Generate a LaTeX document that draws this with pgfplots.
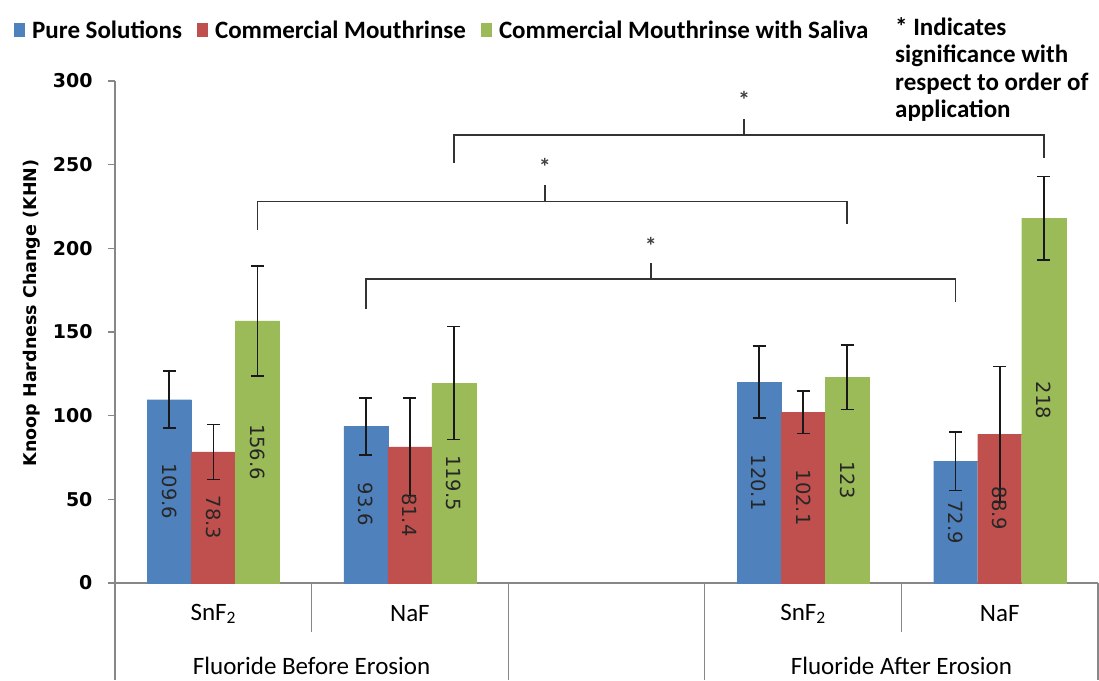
\documentclass[border=0pt]{standalone}
\usepackage{fontspec}
\setmainfont{Carlito}
\newfontfamily\dejavu{DejaVu Sans}
\usepackage{pgfplots}
\usepackage{pgfplotstable}
\pgfplotsset{compat=1.18}
\definecolor{cblue}{HTML}{4F81BD}
\definecolor{cred}{HTML}{C0504D}
\definecolor{cgreen}{HTML}{9BBB59}
\definecolor{axgrey}{HTML}{878787}
\definecolor{brk}{HTML}{333333}

\pgfplotstableread{
x y e lab
0 109.6 17.1 109.6
1 93.6 17.0 93.6
3 120.1 21.6 120.1
4 72.9 17.5 72.9
}\tblue
\pgfplotstableread{
x y e lab
0 78.3 16.5 78.3
1 81.4 29.0 81.4
3 102.1 12.8 102.1
4 88.9 40.4 88.9
}\tred
\pgfplotstableread{
x y e lab
0 156.6 32.8 156.6
1 119.5 33.7 119.5
3 123 19.2 123
4 218 25 218
}\tgreen

\begin{document}
\begin{tikzpicture}
\useasboundingbox (-115pt,-97pt) rectangle (984pt,583pt);
\begin{axis}[
  scale only axis, width=983pt, height=502pt,
  xmin=-0.5, xmax=4.5, ymin=0, ymax=300,
  ybar=0pt, bar width=0.224,
  axis lines*=left,
  axis line style={axgrey, line width=1.2pt},
  xtick=\empty,
  ytick={0,50,...,300},
  tick align=outside, major tick length=7pt,
  tick style={axgrey, line width=1.2pt},
  yticklabel style={font=\dejavu\bfseries\fontsize{19}{21}\selectfont, /pgf/number format/assume math mode=true, xshift=-12pt},
  ylabel={Knoop Hardness Change (KHN)},
  ylabel style={font=\dejavu\bfseries\fontsize{17.5}{20}\selectfont, at={(axis description cs:-0.0844,0.538)}, anchor=center},
  clip=false,
  legend style={at={(axis description cs:-0.1058,1.1016)}, anchor=west, draw=none, fill=none, legend columns=3,
    font=\bfseries\fontsize{25}{28}\selectfont,
    /tikz/every even column/.append style={column sep=13pt},
    /tikz/every odd column/.append style={column sep=5pt},
    nodes={inner sep=2pt}},
  legend image code/.code={\fill[#1,draw=none] (0pt,-7pt) rectangle (11pt,7pt);},
  nodes near coords, point meta=explicit symbolic,
  visualization depends on=rawy \as \rawy,
  every node near coord/.append style={shift={(axis direction cs:0,-\rawy/2)}, rotate=-90, anchor=center,
    font=\dejavu\fontsize{19.5}{20}\selectfont, text=black!85},
  error bars/y dir=both, error bars/y explicit,
  error bars/error mark=-,
  error bars/error bar style={line width=1.6pt, draw=black!90, solid},
  error bars/error mark options={rotate=90, line width=1.6pt, mark size=6.5pt, draw=black!90, solid},
]
\addplot[fill=cblue, draw=cblue, line width=0.1pt] table[x=x, y=y, y error=e, meta=lab]{\tblue};
\addplot[fill=cred, draw=cred, line width=0.1pt] table[x=x, y=y, y error=e, meta=lab]{\tred};
\addplot[fill=cgreen, draw=cgreen, line width=0.1pt] table[x=x, y=y, y error=e, meta=lab]{\tgreen};
\legend{Pure Solutions, Commercial Mouthrinse, Commercial Mouthrinse with Saliva}

% significance brackets
\draw[brk, line width=1.6pt] (axis cs:1.224,251) -- (axis cs:1.224,267.8) -- (axis cs:4.224,267.8) -- (axis cs:4.224,254);
\draw[brk, line width=1.6pt] (axis cs:2.70,267.8) -- (axis cs:2.70,277);
\draw[brk, line width=1.6pt] (axis cs:0.224,211) -- (axis cs:0.224,228) -- (axis cs:3.224,228) -- (axis cs:3.224,214.5);
\draw[brk, line width=1.6pt] (axis cs:1.687,228) -- (axis cs:1.687,238);
\draw[brk, line width=1.6pt] (axis cs:0.776,164) -- (axis cs:0.776,181.5) -- (axis cs:3.776,181.5) -- (axis cs:3.776,168);
\draw[brk, line width=1.6pt] (axis cs:2.226,181.5) -- (axis cs:2.226,191);
\node[font=\bfseries\fontsize{24}{24}\selectfont, text=black!75, anchor=base] at ([yshift=-11pt]axis cs:2.70,290) {*};
\node[font=\bfseries\fontsize{24}{24}\selectfont, text=black!75, anchor=base] at ([yshift=-11pt]axis cs:1.687,250) {*};
\node[font=\bfseries\fontsize{24}{24}\selectfont, text=black!75, anchor=base] at ([yshift=-11pt]axis cs:2.226,203) {*};

% category box
\draw[axgrey, line width=1.2pt] (axis cs:-0.5,0) -- ([yshift=-97pt]axis cs:-0.5,0);
\draw[axgrey, line width=1.2pt] (axis cs:0.5,0) -- ([yshift=-49pt]axis cs:0.5,0);
\draw[axgrey, line width=1.2pt] (axis cs:1.5,0) -- ([yshift=-97pt]axis cs:1.5,0);
\draw[axgrey, line width=1.2pt] (axis cs:2.5,0) -- ([yshift=-97pt]axis cs:2.5,0);
\draw[axgrey, line width=1.2pt] (axis cs:3.5,0) -- ([yshift=-49pt]axis cs:3.5,0);
\draw[axgrey, line width=1.2pt] (axis cs:4.5,0) -- ([yshift=-97pt]axis cs:4.5,0);
\node[font=\fontsize{25}{28}\selectfont] at ([yshift=-31pt]axis cs:0,0) {SnF\textsubscript{2}};
\node[font=\fontsize{25}{28}\selectfont] at ([yshift=-31pt]axis cs:1,0) {NaF};
\node[font=\fontsize{25}{28}\selectfont] at ([yshift=-31pt]axis cs:3,0) {SnF\textsubscript{2}};
\node[font=\fontsize{25}{28}\selectfont] at ([yshift=-31pt]axis cs:4,0) {NaF};
\node[font=\fontsize{25}{28}\selectfont] at ([yshift=-83pt]axis cs:0.5,0) {Fluoride Before Erosion};
\node[font=\fontsize{25}{28}\selectfont] at ([yshift=-83pt]axis cs:3.5,0) {Fluoride After Erosion};
\end{axis}
\node[anchor=north west, align=left, inner sep=0pt, font=\bfseries\fontsize{25}{27.5}\selectfont] at (780pt,566pt)
  {* Indicates\\significance with\\respect to order of\\application};
\end{tikzpicture}
\end{document}
